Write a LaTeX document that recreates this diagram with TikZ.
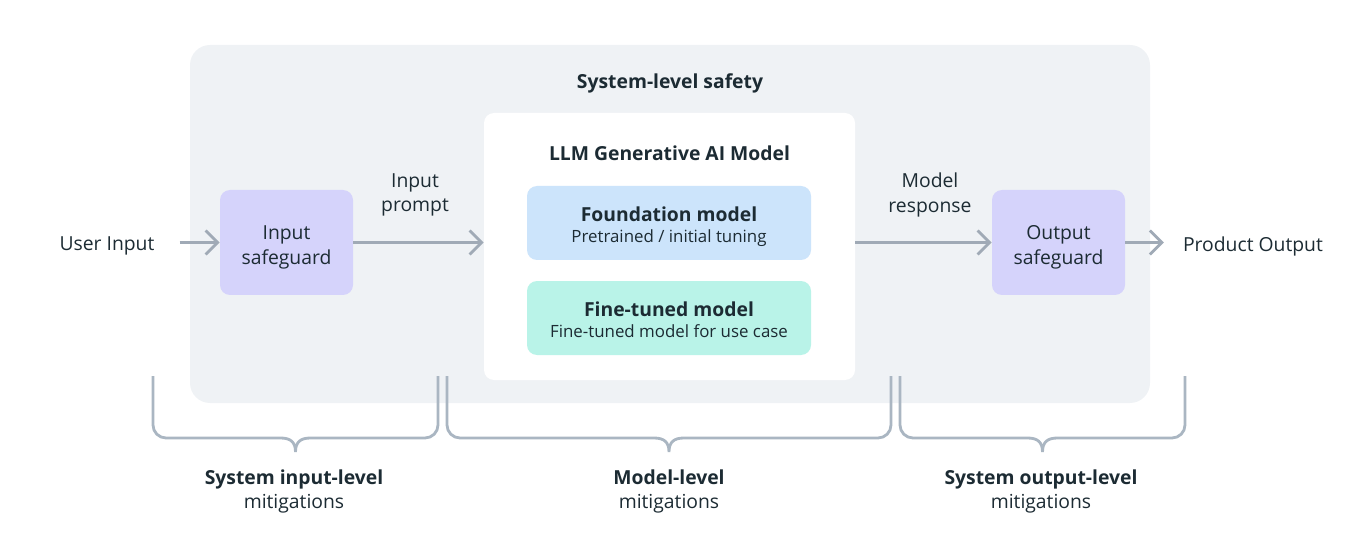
\documentclass[tikz,border=0pt]{standalone}
\usepackage{fontspec}
\setmainfont{Open Sans}
\usepackage{tikz}
\usetikzlibrary{arrows.meta, positioning}

\definecolor{sysbg}{HTML}{EFF2F5}
\definecolor{guard}{HTML}{D5D3FB}
\definecolor{found}{HTML}{CCE4FB}
\definecolor{tuned}{HTML}{B9F3E8}
\definecolor{flow}{HTML}{A0AAB6}
\definecolor{bracecol}{HTML}{AAB6C2}
\definecolor{ink}{HTML}{1C2B33}

\newcommand{\boxtext}[3][-2pt]{\raisebox{-0.09cm}[\height][\depth]{\begin{tabular}{@{}c@{}}#2\\[#1]#3\end{tabular}}}

\begin{document}
\begin{tikzpicture}[font=\fontsize{11}{14}\selectfont, text=ink,
    panel/.style={fill=sysbg, rounded corners=0.4cm, minimum width=19.2cm, minimum height=7.16cm},
    core/.style={fill=white, rounded corners=0.2cm, minimum width=7.42cm, minimum height=5.34cm},
    safe/.style={fill=guard, rounded corners=0.2cm, minimum width=2.66cm, minimum height=2.1cm, align=center},
    model/.style={rounded corners=0.2cm, minimum width=5.68cm, minimum height=1.48cm, align=center},
    title/.style={font=\fontsize{11}{14}\selectfont\bfseries},
    arrow/.style={-{Straight Barb[length=0.24cm, width=0.48cm]}, line width=1.6pt, draw=flow},
    brace/.style={line width=1.6pt, draw=bracecol}
]
    \useasboundingbox (0,0) rectangle (26.98,10.76);

    \node[panel] (sys) at (13.4,6.28) {};
    \node[title] (systitle) at (13.4,9.10) {System-level safety};
    \node[core] (llm) at (13.39,5.83) {};
    \node[title] (llmtitle) at (13.39,7.70) {LLM Generative AI Model};

    \node[model, fill=found] (found) at (13.38,6.30)
        {\boxtext{\bfseries Foundation model}{\fontsize{9.6}{12}\selectfont Pretrained / initial tuning}};
    \node[model, fill=tuned] (tuned) at (13.38,4.40)
        {\boxtext{\bfseries Fine-tuned model}{\fontsize{9.6}{12}\selectfont Fine-tuned model for use case}};

    \node[safe] (insafe) at (5.73,5.91) {\boxtext[0pt]{Input}{safeguard}};
    \node[safe] (outsafe) at (21.17,5.91) {\boxtext[0pt]{Output}{safeguard}};

    \node (user) at (2.14,5.84) {User Input};
    \node (product) at (25.06,5.84) {Product Output};

    \draw[arrow, shorten <=0.38cm] (user.east |- insafe) -- (insafe.west);
    \draw[arrow] (insafe.east) -- (llm.west |- insafe);
    \draw[arrow] (llm.east |- outsafe) -- (outsafe.west);
    \draw[arrow, shorten >=0.26cm] (outsafe.east) -- (product.west |- outsafe);

    \node[align=center] (prompt) at (8.30,6.86) {Input\\prompt};
    \node[align=center] (response) at (18.6,6.86) {Model\\response};

    \foreach \l/\r in {3.06/8.76, 8.94/17.82, 18.0/23.7} {
        \pgfmathsetmacro{\c}{(\l+\r)/2}
        \draw[brace] (\l,3.24) -- (\l,2.26) arc[start angle=180, end angle=270, radius=0.26]
            -- (\c-0.3,2.0) .. controls (\c-0.1,2.0) and (\c,1.92) .. (\c,1.72)
            .. controls (\c,1.92) and (\c+0.1,2.0) .. (\c+0.3,2.0)
            -- (\r-0.26,2.0) arc[start angle=270, end angle=360, radius=0.26] -- (\r,3.24);
    }

    \node[align=center] (inlevel) at (5.88,0.93)
        {{\bfseries System input-level}\\mitigations};
    \node[align=center] (modlevel) at (13.38,0.93)
        {{\bfseries Model-level}\\mitigations};
    \node[align=center] (outlevel) at (20.82,0.93)
        {{\bfseries System output-level}\\mitigations};
\end{tikzpicture}
\end{document}
